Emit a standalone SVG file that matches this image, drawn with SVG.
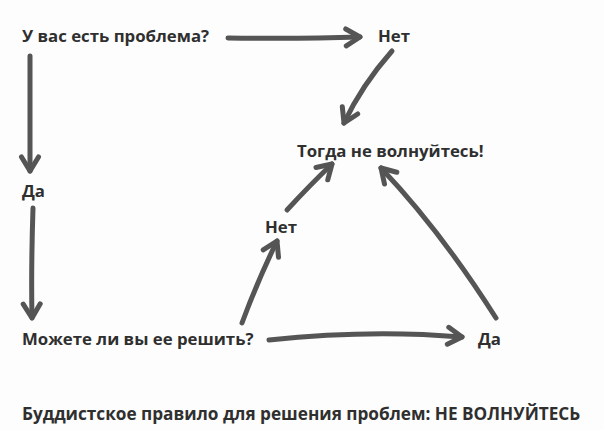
<svg xmlns="http://www.w3.org/2000/svg" width="604" height="430" viewBox="0 0 604 430">
<defs>
<style>
text{font-family:"Open Sans","Noto Sans","Liberation Sans",sans-serif;font-weight:700;font-size:16.8px;fill:#2f2f2f}
.cap{font-size:17.2px}
.c path{fill:none;stroke:#555;stroke-width:5;stroke-linecap:round;stroke-linejoin:round}
</style>
<marker id="ah" markerUnits="userSpaceOnUse" viewBox="-20 -14 26 28" refX="0" refY="0" markerWidth="26" markerHeight="28" orient="auto" overflow="visible">
<path d="M-14,-8.5 L0,0 L-14,8.5" fill="none" stroke="#555" stroke-width="5" stroke-linecap="round" stroke-linejoin="round"/>
</marker>
</defs>
<rect width="604" height="430" fill="#fdfdfd"/>
<g class="c" id="connectors">
<path d="M228,38 Q300,39 360,37" marker-end="url(#ah)"/>
<path d="M392,51 Q362,85 344,123" marker-end="url(#ah)"/>
<path d="M30,56 Q30,120 30,171" marker-end="url(#ah)"/>
<path d="M33,208 Q31,270 32,318" marker-end="url(#ah)"/>
<path d="M269,340 Q370,329 462,337" marker-end="url(#ah)"/>
<path d="M496,318 Q440,230 381,168" marker-end="url(#ah)"/>
<path d="M287,210 Q310,185 332,164" marker-end="url(#ah)"/>
<path d="M242,323 Q258,280 277,241" marker-end="url(#ah)"/>
</g>
<g id="q1"><text x="22" y="42">У вас есть проблема?</text></g>
<g id="no1"><text x="378" y="42">Нет</text></g>
<g id="calm"><text x="297" y="157">Тогда не волнуйтесь!</text></g>
<g id="yes1"><text x="22" y="197">Да</text></g>
<g id="no2"><text x="265" y="233">Нет</text></g>
<g id="q2"><text x="22" y="345">Можете ли вы ее решить?</text></g>
<g id="yes2"><text x="478" y="345">Да</text></g>
<g id="caption"><text class="cap" x="22" y="420">Буддистское правило для решения проблем: НЕ ВОЛНУЙТЕСЬ</text></g>
</svg>
